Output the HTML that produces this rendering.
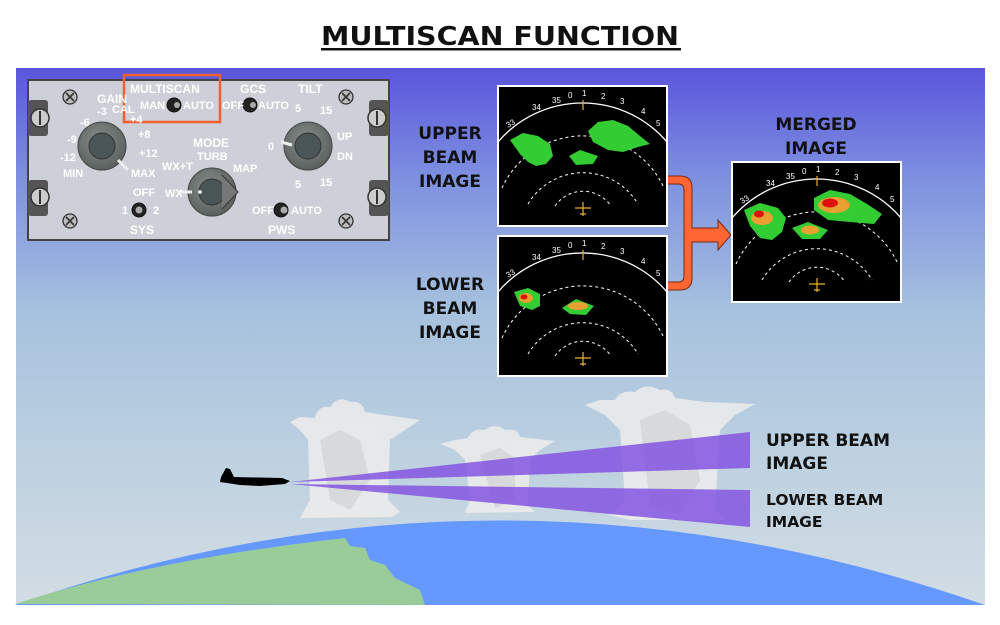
<!DOCTYPE html>
<html><head><meta charset="utf-8"><style>
html,body{margin:0;padding:0;background:#fff;}
svg{display:block;}
.lb{font-family:"DejaVu Sans","Liberation Sans",sans-serif;font-weight:bold;fill:#111;}
.pl{font-family:"Liberation Sans",sans-serif;fill:#fff;font-size:11px;font-weight:bold;}
.sc{font-family:"Liberation Sans",sans-serif;fill:#fff;font-size:8px;}
</style></head><body>
<svg width="1000" height="625" viewBox="0 0 1000 625" xmlns="http://www.w3.org/2000/svg">
<defs>
<linearGradient id="bg" x1="0" y1="0" x2="0" y2="1">
<stop offset="0" stop-color="#5a55dc"/>
<stop offset="0.2" stop-color="#7d8fe0"/>
<stop offset="0.45" stop-color="#a6c1de"/>
<stop offset="0.75" stop-color="#bfd2e0"/>
<stop offset="1" stop-color="#d3dde4"/>
</linearGradient>
<radialGradient id="knob" cx="0.45" cy="0.4" r="0.6">
<stop offset="0" stop-color="#8a918d"/><stop offset="1" stop-color="#5a605d"/>
</radialGradient>
<g id="scr">
<rect x="0" y="0" width="169" height="140" fill="#000" stroke="#fff" stroke-width="2"/>
<path d="M0,56 A111,111 0 0 1 169,56" fill="none" stroke="#fff" stroke-width="1.3"/>
<path d="M4,102 A89,89 0 0 1 166,102" fill="none" stroke="#fff" stroke-width="1" stroke-dasharray="3,3"/>
<path d="M30,118 A64,64 0 0 1 140,118" fill="none" stroke="#fff" stroke-width="1" stroke-dasharray="3,3"/>
<path d="M57,120 A34,34 0 0 1 113,120" fill="none" stroke="#fff" stroke-width="1" stroke-dasharray="3,3"/>
<path d="M85,14 v10 M77,122 h16 M85,116 v14 M82,128 h6" stroke="#e8b030" stroke-width="1.2"/>
</g>
</defs>
<text x="500" y="45" text-anchor="middle" class="lb" font-size="26" textLength="358" lengthAdjust="spacingAndGlyphs">MULTISCAN FUNCTION</text>
<rect x="321" y="48" width="360" height="2.5" fill="#111"/>
<rect x="16" y="68" width="969" height="537" fill="url(#bg)"/>

<!-- earth -->
<path d="M15,605 Q500,436 985,605 Z" fill="#6699ff"/>
<path d="M15,604 Q150,560 345,538 L350,546 L365,548 L370,560 L385,565 L395,578 L420,590 L425,605 Z" fill="#99cc99"/>

<!-- clouds -->
<g fill="#ececec" opacity="0.88">
<path d="M290,422 L300,417 L315,418 Q318,405 330,407 Q338,395 350,402 Q362,400 365,412 L385,415 L420,420 L405,430 L390,440 L388,500 L400,512 L392,517 L300,518 L310,500 L308,440 L300,430 Z"/>
<path d="M440,444 L455,440 L468,438 Q472,428 485,430 Q495,422 505,430 Q518,428 520,437 L555,441 L540,450 L530,460 L528,505 L535,512 L465,513 L470,500 L465,460 L455,450 Z"/>
<path d="M585,405 L600,400 L615,400 Q620,390 635,392 Q645,382 660,390 Q672,388 675,398 L705,402 L755,404 L735,415 L720,430 L715,510 L725,520 L630,520 L610,515 L625,500 L620,430 L605,415 Z"/>
</g>
<g fill="#cfcfcf" opacity="0.6">
<path d="M320,440 L340,430 L360,440 L370,480 L350,510 L330,500 Z"/>
<path d="M640,420 L665,410 L690,425 L700,480 L680,515 L650,505 Z"/>
<path d="M480,455 L500,448 L515,458 L515,500 L495,508 Z"/>
</g>

<!-- beams -->
<path d="M290,482 L750,432 L750,468 Z" fill="#8455e0" opacity="0.85"/>
<path d="M290,484 L750,490 L750,527 Z" fill="#8455e0" opacity="0.85"/>
<!-- plane -->
<path d="M221,477 L226,468 L230,469 L234,477 L282,478 L290,481 L285,484 L260,486 L240,485 L227,483 L220,482 Z" fill="#000"/>

<text class="lb" font-size="17" x="766" y="446">UPPER BEAM</text>
<text class="lb" font-size="17" x="766" y="469">IMAGE</text>
<text class="lb" font-size="15.5" x="766" y="505">LOWER BEAM</text>
<text class="lb" font-size="15.5" x="766" y="527">IMAGE</text>

<!-- side labels -->
<g class="lb" font-size="17" text-anchor="middle">
<text x="450" y="139">UPPER</text><text x="450" y="163">BEAM</text><text x="450" y="187">IMAGE</text>
<text x="450" y="290">LOWER</text><text x="450" y="314">BEAM</text><text x="450" y="338">IMAGE</text>
<text x="816" y="130">MERGED</text><text x="816" y="154">IMAGE</text>
</g>

<!-- orange bracket arrow -->
<path d="M667,176 L680,176 Q692,176 692,188 L692,228 L718,228 L718,220 L731,235 L718,250 L718,242 L692,242 L692,278 Q692,290 680,290 L667,290 L667,282 L678,282 Q684,282 684,276 L684,190 Q684,184 678,184 L667,184 Z" fill="#ff6633" stroke="#7a2a10" stroke-width="1"/>

<!-- screens -->
<g transform="translate(498,86)"><use href="#scr"/>
<text class="sc" x="10" y="42" transform="rotate(-30 10 42)" font-size="10">33</text>
<text class="sc" x="34" y="24">34</text><text class="sc" x="54" y="17">35</text>
<text class="sc" x="70" y="12" font-size="10">0</text><text class="sc" x="84" y="10">1</text><text class="sc" x="103" y="13">2</text><text class="sc" x="122" y="18" font-size="10">3</text><text class="sc" x="143" y="28">4</text><text class="sc" x="158" y="40">5</text>
<path d="M12,54 L25,47 L40,50 L52,58 L55,70 L48,78 L38,80 L30,76 L22,68 Z" fill="#33cc33"/>
<path d="M90,45 L100,36 L115,34 L130,40 L142,50 L152,58 L140,61 L125,66 L110,64 L95,56 Z" fill="#33cc33"/>
<path d="M71,70 L82,64 L100,70 L95,78 L78,79 Z" fill="#33cc33"/>
</g>
<g transform="translate(498,236)"><use href="#scr"/>
<text class="sc" x="10" y="42" transform="rotate(-30 10 42)" font-size="10">33</text>
<text class="sc" x="34" y="24">34</text><text class="sc" x="54" y="17">35</text>
<text class="sc" x="70" y="12" font-size="10">0</text><text class="sc" x="84" y="10">1</text><text class="sc" x="103" y="13">2</text><text class="sc" x="122" y="18" font-size="10">3</text><text class="sc" x="143" y="28">4</text><text class="sc" x="158" y="40">5</text>
<path d="M16,56 L30,52 L42,58 L42,70 L34,74 L22,70 Z" fill="#33cc33"/>
<ellipse cx="28" cy="62" rx="7" ry="5" fill="#e8a030"/><ellipse cx="26" cy="61" rx="3.5" ry="2.5" fill="#e01010"/>
<path d="M64,72 L78,63 L96,70 L88,79 L72,78 Z" fill="#33cc33"/>
<ellipse cx="80" cy="70" rx="10" ry="4" fill="#e8a030"/>
</g>
<g transform="translate(732,162)"><use href="#scr"/>
<text class="sc" x="10" y="42" transform="rotate(-30 10 42)" font-size="10">33</text>
<text class="sc" x="34" y="24">34</text><text class="sc" x="54" y="17">35</text>
<text class="sc" x="70" y="12" font-size="10">0</text><text class="sc" x="84" y="10">1</text><text class="sc" x="103" y="13">2</text><text class="sc" x="122" y="18" font-size="10">3</text><text class="sc" x="143" y="28">4</text><text class="sc" x="158" y="40">5</text>
<path d="M12,48 L28,41 L46,46 L54,56 L50,70 L40,78 L28,76 L18,64 Z" fill="#33cc33"/>
<ellipse cx="30" cy="56" rx="11" ry="7" fill="#e8a030"/><ellipse cx="27" cy="52" rx="5" ry="3.5" fill="#e01010"/>
<path d="M82,36 L98,28 L118,32 L135,42 L150,52 L142,62 L118,60 L96,58 L82,48 Z" fill="#33cc33"/>
<ellipse cx="102" cy="43" rx="16" ry="8" fill="#e8a030"/><ellipse cx="98" cy="41" rx="8" ry="4.5" fill="#e01010"/>
<path d="M60,66 L76,60 L96,68 L88,77 L70,77 Z" fill="#33cc33"/>
<ellipse cx="78" cy="68" rx="9" ry="4.5" fill="#e8a030"/>
</g>

<!-- control panel -->
<rect x="28" y="80" width="361" height="160" fill="#cdd0d8" stroke="#444" stroke-width="2"/>
<g fill="#555">
<rect x="28" y="100" width="20" height="36" rx="3"/><rect x="28" y="180" width="20" height="36" rx="3"/>
<rect x="369" y="100" width="20" height="36" rx="3"/><rect x="369" y="180" width="20" height="36" rx="3"/>
</g>
<g fill="#ccc" stroke="#333" stroke-width="1.5">
<circle cx="40" cy="118" r="9"/><circle cx="40" cy="197" r="9"/><circle cx="377" cy="118" r="9"/><circle cx="377" cy="197" r="9"/>
</g>
<g stroke="#333" stroke-width="2"><path d="M40,111v14M40,190v14M377,111v14M377,190v14"/></g>
<g fill="#bbb" stroke="#333" stroke-width="1.3">
<circle cx="70" cy="97" r="7"/><circle cx="70" cy="221" r="7"/><circle cx="346" cy="97" r="7"/><circle cx="346" cy="221" r="7"/>
</g>
<g stroke="#333" stroke-width="1.6"><path d="M66,93l8,8M74,93l-8,8M66,217l8,8M74,217l-8,8M342,93l8,8M350,93l-8,8M342,217l8,8M350,217l-8,8"/></g>
<!-- knobs -->
<circle cx="102" cy="146" r="24" fill="url(#knob)" stroke="#444"/><circle cx="102" cy="146" r="13" fill="#4a5558" stroke="#333"/>
<path d="M118,160 L128,170" stroke="#eee" stroke-width="3"/>
<circle cx="212" cy="192" r="24" fill="url(#knob)" stroke="#444"/><circle cx="212" cy="192" r="13" fill="#4a5558" stroke="#333"/>
<path d="M222,175 L238,192 L222,209" fill="#777" stroke="#333"/>
<path d="M178,192 L192,192" stroke="#eee" stroke-width="3"/><circle cx="200" cy="192" r="1.8" fill="#fff"/>
<circle cx="308" cy="146" r="24" fill="url(#knob)" stroke="#444"/><circle cx="308" cy="146" r="13" fill="#4a5558" stroke="#333"/>
<path d="M281,142 L292,145" stroke="#eee" stroke-width="3"/>
<!-- toggles -->
<g fill="#222" stroke="#111"><circle cx="174" cy="105" r="7"/><circle cx="250" cy="105" r="7"/><circle cx="139" cy="210" r="7"/><circle cx="281" cy="210" r="7"/></g>
<g fill="#aaa"><circle cx="177" cy="105" r="3"/><circle cx="253" cy="105" r="3"/><circle cx="139" cy="210" r="3.5"/><circle cx="284" cy="210" r="3.5"/></g>
<rect x="124" y="75" width="96" height="47" fill="none" stroke="#f06030" stroke-width="2.5"/>
<g class="pl">
<text x="130" y="93" font-size="12">MULTISCAN</text><text x="140" y="109">MAN</text><text x="183" y="109">AUTO</text>
<text x="240" y="93" font-size="12">GCS</text><text x="222" y="109">OFF</text><text x="258" y="109">AUTO</text>
<text x="298" y="93" font-size="12">TILT</text>
<text x="97" y="103" font-size="12">GAIN</text><text x="112" y="113">CAL</text>
<text x="97" y="115">-3</text><text x="80" y="126">-6</text><text x="67" y="143">-9</text><text x="60" y="161">-12</text><text x="63" y="177">MIN</text>
<text x="130" y="123">+4</text><text x="138" y="138">+8</text><text x="139" y="157">+12</text><text x="131" y="177">MAX</text>
<text x="193" y="147" font-size="12">MODE</text><text x="197" y="160">TURB</text><text x="162" y="170">WX+T</text><text x="233" y="172">MAP</text><text x="165" y="197">WX</text>
<text x="133" y="196">OFF</text><text x="122" y="214">1</text><text x="153" y="214">2</text><text x="130" y="234" font-size="12">SYS</text>
<text x="252" y="214">OFF</text><text x="291" y="214">AUTO</text><text x="268" y="234" font-size="12">PWS</text>
<text x="295" y="112">5</text><text x="320" y="114">15</text><text x="337" y="140">UP</text><text x="337" y="160">DN</text><text x="268" y="150">0</text>
<text x="295" y="188">5</text><text x="320" y="186">15</text>
</g>
</svg>
</body></html>
